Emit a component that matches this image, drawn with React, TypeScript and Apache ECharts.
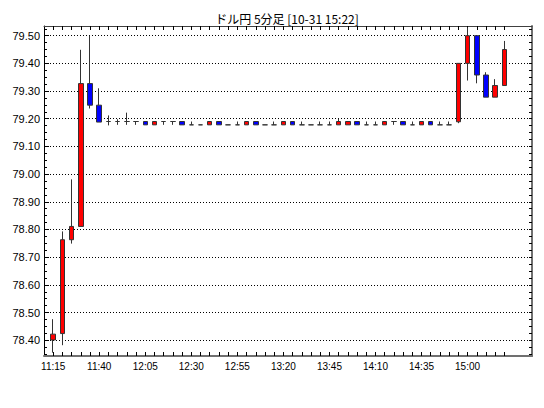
import React, { useEffect, useRef } from "react";
import * as echarts from "echarts";

const times = [
  "11:15", "11:20", "11:25", "11:30", "11:35", "11:40", "11:45", "11:50", "11:55", "12:00",
  "12:05", "12:10", "12:15", "12:20", "12:25", "12:30", "12:35", "12:40", "12:45", "12:50",
  "12:55", "13:00", "13:05", "13:10", "13:15", "13:20", "13:25", "13:30", "13:35", "13:40",
  "13:45", "13:50", "13:55", "14:00", "14:05", "14:10", "14:15", "14:20", "14:25", "14:30",
  "14:35", "14:40", "14:45", "14:50", "14:55", "15:00", "15:05", "15:10", "15:15", "15:20",
];
const opens = [
  78.401, 78.424, 78.763, 78.811, 79.327, 79.249, 79.19, 79.19, 79.19, 79.19,
  79.19, 79.178, 79.19, 79.19, 79.19, 79.178, 79.178, 79.178, 79.19, 79.178,
  79.178, 79.178, 79.19, 79.178, 79.178, 79.178, 79.19, 79.178, 79.178, 79.178,
  79.178, 79.178, 79.178, 79.19, 79.178, 79.178, 79.178, 79.19, 79.19, 79.178,
  79.178, 79.19, 79.178, 79.178, 79.189, 79.40, 79.50, 79.358, 79.278, 79.32,
];
const closes = [
  78.422, 78.763, 78.811, 79.327, 79.249, 79.188, 79.19, 79.19, 79.19, 79.19,
  79.178, 79.19, 79.19, 79.19, 79.178, 79.178, 79.178, 79.19, 79.178, 79.178,
  79.178, 79.19, 79.178, 79.178, 79.178, 79.19, 79.178, 79.178, 79.178, 79.178,
  79.178, 79.19, 79.19, 79.178, 79.178, 79.178, 79.19, 79.19, 79.178, 79.178,
  79.19, 79.178, 79.178, 79.178, 79.40, 79.50, 79.358, 79.278, 79.32, 79.45,
];
const lows = [
  78.355, 78.382, 78.749, 78.811, 79.237, 79.188, 79.176, 79.178, 79.178, 79.178,
  79.178, 79.178, 79.178, 79.178, 79.178, 79.178, 79.178, 79.178, 79.178, 79.178,
  79.178, 79.178, 79.178, 79.178, 79.178, 79.178, 79.178, 79.178, 79.178, 79.178,
  79.178, 79.178, 79.178, 79.178, 79.178, 79.178, 79.178, 79.178, 79.178, 79.178,
  79.178, 79.178, 79.178, 79.178, 79.184, 79.338, 79.328, 79.278, 79.278, 79.32,
];
const highs = [
  78.476, 78.793, 78.981, 79.449, 79.50, 79.31, 79.212, 79.198, 79.222, 79.19,
  79.19, 79.19, 79.19, 79.19, 79.19, 79.19, 79.178, 79.19, 79.19, 79.178,
  79.19, 79.19, 79.19, 79.178, 79.19, 79.19, 79.19, 79.19, 79.178, 79.19,
  79.19, 79.20, 79.19, 79.19, 79.19, 79.19, 79.19, 79.19, 79.19, 79.19,
  79.19, 79.19, 79.19, 79.19, 79.40, 79.53, 79.50, 79.368, 79.343, 79.481,
];
const yLabels = [78.4, 78.5, 78.6, 78.7, 78.8, 78.9, 79.0, 79.1, 79.2, 79.3, 79.4, 79.5];
const xLabelTimes = ["11:15", "11:40", "12:05", "12:30", "12:55", "13:20", "13:45", "14:10", "14:35", "15:00"];

const Y_MIN = 78.343;
const Y_MAX = 79.535;

export default function App() {
  const ref = useRef<HTMLDivElement>(null);
  useEffect(() => {
    if (!ref.current) return;
    const chart = echarts.init(ref.current, undefined, { renderer: "svg" });
    const categories = ["", ...times, "", "", ""];
    const candles = [
      "-",
      ...times.map((_, i) => [opens[i], closes[i], lows[i], highs[i]]),
      "-", "-", "-",
    ];
    const minorTicks: number[] = [];
    for (let k = 0; k < 48; k++) minorTicks.push(Math.round((78.35 + k * 0.025) * 1000) / 1000);
    const isCandle = (i: number) => i >= 1 && i <= times.length;
    const labelFont = "Liberation Sans";
    chart.setOption({
      animation: false,
      backgroundColor: "#ffffff",
      title: {
        text: "ドル円 5分足 [10-31 15:22]",
        left: 282,
        top: 7,
        textAlign: "center",
        textStyle: { fontSize: 12, fontWeight: "normal", color: "#000", fontFamily: "Noto Sans CJK JP" },
      },
      grid: { left: 44, right: 12, top: 26, bottom: 52, show: false },
      xAxis: [
        {
          type: "category",
          data: categories,
          boundaryGap: false,
          position: "bottom",
          axisLine: { lineStyle: { color: "#707070", width: 2 } },
          axisTick: { show: true, inside: true, length: 4, interval: (i: number) => isCandle(i), lineStyle: { color: "#000" } },
          axisLabel: {
            interval: (i: number, v: string) => xLabelTimes.includes(v),
            color: "#000",
            fontSize: 10,
            fontFamily: labelFont,
            margin: 5,
          },
          splitLine: { show: false },
        },
        {
          type: "category",
          data: categories,
          boundaryGap: false,
          position: "top",
          axisLine: { lineStyle: { color: "#404040", width: 1 } },
          axisTick: { show: true, inside: true, length: 4, interval: (i: number) => isCandle(i), lineStyle: { color: "#000" } },
          axisLabel: { show: false },
          splitLine: { show: false },
        },
      ],
      yAxis: [
        {
          type: "value",
          min: Y_MIN,
          max: Y_MAX,
          splitNumber: 12,
          minInterval: 0.1,
          maxInterval: 0.1,
          position: "left",
          axisLine: { show: true, lineStyle: { color: "#000", width: 1 } },
          axisTick: { show: true, inside: true, length: 5, customValues: yLabels, lineStyle: { color: "#000" } },
          axisLabel: {
            customValues: yLabels,
            formatter: (v: number) => v.toFixed(2),
            color: "#000",
            fontSize: 11,
            fontFamily: labelFont,
            margin: 4,
            showMinLabel: true,
            showMaxLabel: true,
          },
          splitLine: {
            show: true,
            showMinLine: true,
            showMaxLine: true,
            lineStyle: { color: "#000", type: [1, 2], width: 1 },
          },
        },
        {
          type: "value",
          min: Y_MIN,
          max: Y_MAX,
          position: "right",
          axisLine: { show: true, lineStyle: { color: "#707070", width: 2 } },
          axisTick: { show: true, inside: true, length: 3, customValues: minorTicks, lineStyle: { color: "#000" } },
          axisLabel: { show: false },
          splitLine: { show: false },
        },
        {
          type: "value",
          min: Y_MIN,
          max: Y_MAX,
          position: "left",
          axisLine: { show: false },
          axisTick: { show: true, inside: true, length: 3, customValues: minorTicks, lineStyle: { color: "#000" } },
          axisLabel: { show: false },
          splitLine: { show: false },
        },
      ],
      series: [
        {
          type: "candlestick",
          xAxisIndex: 0,
          yAxisIndex: 0,
          data: candles,
          barWidth: 5,
          itemStyle: {
            color: "#ff0000",
            color0: "#0000ff",
            borderColor: "#333",
            borderColor0: "#333",
            borderWidth: 1,
          },
        },
      ],
    });
    return () => chart.dispose();
  }, []);
  return (
    <div
      ref={ref}
      style={{ position: "fixed", left: 0, top: 0, width: 544, height: 408, background: "#fff" }}
    />
  );
}
